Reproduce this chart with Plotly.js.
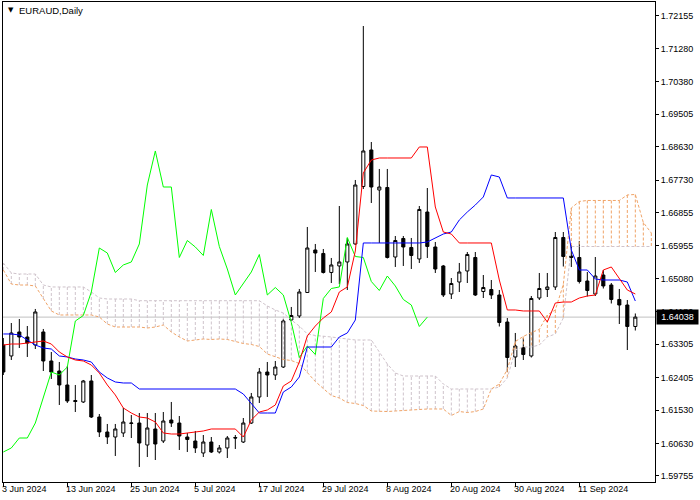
<!DOCTYPE html>
<html><head><meta charset="utf-8">
<script src="https://cdn.plot.ly/plotly-3.0.1.min.js"></script>
<style>html,body{margin:0;padding:0;background:#fff;}#chart{width:700px;height:500px;}</style>
</head><body><div id="chart"></div>
<script>
const symbolTitle = "EURAUD,Daily";
const dateLabels = ["3 Jun 2024","13 Jun 2024","25 Jun 2024","5 Jul 2024","17 Jul 2024","29 Jul 2024","8 Aug 2024","20 Aug 2024","30 Aug 2024","11 Sep 2024"];
const dateLabelIdx = [0,8,16,24,32,40,48,56,64,72];
const priceTicks = [1.72155,1.71280,1.70380,1.69505,1.68630,1.67730,1.66855,1.65955,1.65080,1.64180,1.63305,1.62405,1.61530,1.60630,1.59755];

const open = [1.63286,1.62990,1.63637,1.63502,1.63286,1.63637,1.62855,1.62585,1.62208,1.61790,
1.61750,1.62316,1.61345,1.60941,1.60806,1.60914,1.61170,1.61183,1.60590,1.61022,
1.60698,1.61264,1.61183,1.60806,1.60698,1.60375,1.60671,1.60402,1.60510,1.60793,
1.60671,1.61183,1.61885,1.62558,1.62477,1.62693,1.63960,1.64068,1.64702,1.65847,
1.65753,1.65241,1.65416,1.65524,1.66009,1.67559,1.68543,1.67465,1.67532,1.65658,
1.66157,1.65915,1.65605,1.66871,1.65928,1.65416,1.64661,1.64984,1.65281,1.65645,
1.64728,1.64782,1.64634,1.63906,1.62963,1.63219,1.62990,1.64553,1.64782,1.64850,
1.66184,1.65685,1.65645,1.65011,1.64661,1.65173,1.64904,1.64513,1.64364,1.63785];
const high = [1.63475,1.63879,1.63987,1.63798,1.64257,1.63718,1.63097,1.62828,1.62720,1.62208,
1.62343,1.62477,1.61426,1.61157,1.61157,1.61588,1.61399,1.61453,1.61453,1.61453,
1.61480,1.61750,1.61372,1.60914,1.60968,1.60860,1.60806,1.60590,1.60833,1.60860,
1.61318,1.61993,1.62666,1.62828,1.62855,1.63987,1.64311,1.64796,1.66467,1.66009,
1.65874,1.65632,1.67033,1.66171,1.67734,1.71885,1.68758,1.68031,1.68031,1.66224,
1.66224,1.66171,1.67033,1.67518,1.66063,1.65443,1.65092,1.65497,1.65793,1.65793,
1.65173,1.65038,1.64769,1.64014,1.63610,1.63475,1.64607,1.65227,1.65227,1.66332,
1.66332,1.65982,1.66090,1.65254,1.65658,1.65308,1.64957,1.64796,1.64499,1.64136];
const low = [1.62477,1.62882,1.63205,1.62963,1.63178,1.62585,1.62370,1.61669,1.61723,1.61480,
1.61723,1.61318,1.60806,1.60617,1.60294,1.60806,1.60779,1.59998,1.60267,1.60186,
1.60644,1.61076,1.60456,1.60402,1.60375,1.60267,1.60375,1.60361,1.60240,1.60483,
1.60644,1.61157,1.61723,1.61885,1.62343,1.62666,1.63933,1.64014,1.64688,1.65254,
1.65213,1.64957,1.64930,1.64769,1.65982,1.67491,1.67114,1.66036,1.65618,1.65389,
1.65416,1.65335,1.65497,1.65632,1.65227,1.64580,1.64526,1.64715,1.64957,1.64607,
1.64553,1.64526,1.63785,1.62558,1.62693,1.62882,1.62949,1.64499,1.64580,1.64769,
1.65402,1.65389,1.64944,1.64594,1.64607,1.64809,1.64405,1.63852,1.63151,1.63677];
const close = [1.62558,1.63610,1.63502,1.63340,1.64176,1.62855,1.62558,1.62208,1.61777,1.61763,
1.62316,1.61345,1.60941,1.60806,1.61022,1.61210,1.61183,1.60644,1.61049,1.60617,
1.61237,1.61183,1.60833,1.60739,1.60510,1.60671,1.60402,1.60510,1.60779,1.60779,
1.61183,1.61885,1.62558,1.62477,1.62693,1.63933,1.64081,1.64715,1.65901,1.65766,
1.65241,1.65443,1.65524,1.66009,1.67599,1.68516,1.67545,1.67545,1.65645,1.66103,
1.65928,1.65699,1.66939,1.65942,1.65335,1.64634,1.64944,1.65254,1.65726,1.64634,
1.64836,1.64634,1.63893,1.62949,1.63259,1.63030,1.64540,1.64809,1.64850,1.66184,
1.65672,1.65645,1.64998,1.64755,1.65146,1.64877,1.64513,1.64364,1.63785,1.64038];

const tenkan = [1.63286,1.63313,1.63313,1.63340,1.63367,1.63394,1.63313,1.63097,1.62963,1.62882,
1.62855,1.62747,1.62531,1.62208,1.61939,1.61588,1.61453,1.61345,1.61318,1.61210,
1.60914,1.60887,1.60887,1.60914,1.60941,1.60968,1.61022,1.61022,1.61022,1.61022,
1.60806,1.61264,1.61480,1.61534,1.61669,1.62181,1.62316,1.62828,1.63529,1.63798,
1.64014,1.64176,1.64715,1.64850,1.65820,1.67923,1.68273,1.68327,1.68327,1.68327,
1.68327,1.68327,1.68624,1.68624,1.67006,1.66332,1.66278,1.66036,1.66036,1.66036,
1.66036,1.66036,1.65038,1.64230,1.64230,1.64203,1.64203,1.64203,1.63906,1.64418,
1.64445,1.64445,1.64553,1.64607,1.64634,1.65308,1.65389,1.65092,1.64769,1.64661];
const kijun = [1.63583,1.63583,1.63556,1.63421,1.63286,1.63205,1.63178,1.62990,1.62963,1.62909,
1.62882,1.62828,1.62558,1.62397,1.62289,1.62262,1.62262,1.62100,1.62100,1.62100,
1.62100,1.62100,1.62100,1.62100,1.62100,1.62100,1.62100,1.62100,1.62100,1.62100,
1.61965,1.61723,1.61453,1.61453,1.61453,1.62019,1.62154,1.62424,1.63232,1.63232,
1.63232,1.63232,1.63502,1.63610,1.63960,1.66036,1.66036,1.66036,1.66036,1.66036,
1.66036,1.66036,1.66036,1.66063,1.66171,1.66278,1.66332,1.66656,1.66871,1.67060,
1.67276,1.67869,1.67815,1.67249,1.67249,1.67249,1.67249,1.67249,1.67249,1.67249,
1.67249,1.65847,1.65308,1.65308,1.65065,1.65038,1.65038,1.65038,1.64984,1.64472];
const senkouA = [1.65308,1.64930,1.64903,1.64903,1.64877,1.64526,1.64203,1.64095,1.64095,1.64095,
1.64095,1.64095,1.64041,1.63852,1.63771,1.63771,1.63771,1.63771,1.63744,1.63771,
1.63825,1.63637,1.63502,1.63394,1.63421,1.63448,1.63435,1.63448,1.63435,1.63381,
1.63327,1.63300,1.63246,1.63044,1.62963,1.62895,1.62868,1.62787,1.62544,1.62302,
1.62113,1.61925,1.61857,1.61736,1.61709,1.61655,1.61507,1.61493,1.61493,1.61507,
1.61520,1.61534,1.61561,1.61561,1.61561,1.61561,1.61386,1.61493,1.61466,1.61493,
1.61561,1.62100,1.62235,1.62626,1.63381,1.63516,1.63624,1.63705,1.64095,1.64230,
1.64917,1.66980,1.67155,1.67182,1.67182,1.67182,1.67182,1.67182,1.67330,1.67344,
1.66588,1.66305];
const senkouB = [1.65497,1.65227,1.65200,1.65200,1.65200,1.64904,1.64850,1.64850,1.64850,1.64850,
1.64850,1.64715,1.64553,1.64526,1.64526,1.64526,1.64526,1.64480,1.64480,1.64480,
1.64480,1.64480,1.64480,1.64480,1.64480,1.64480,1.64480,1.64480,1.64480,1.64480,
1.64480,1.64480,1.64480,1.64338,1.64230,1.64149,1.63960,1.63798,1.63583,1.63543,
1.63529,1.63502,1.63475,1.63448,1.63421,1.63421,1.63421,1.63097,1.62774,1.62531,
1.62450,1.62450,1.62450,1.62450,1.62450,1.62235,1.62100,1.62100,1.62100,1.62100,
1.62100,1.62100,1.62154,1.62397,1.63151,1.63232,1.63232,1.63286,1.63502,1.63583,
1.64014,1.65941,1.65941,1.65941,1.65941,1.65941,1.65941,1.65941,1.65941,1.65941,
1.65941,1.65941];
const chikouShift = 26;

const idx = open.map((_, i) => i);
const cloudIdx = senkouA.map((_, i) => i);
const chikouX = idx.slice(0, close.length - chikouShift);
const chikouY = close.slice(chikouShift);
const lastClose = close[close.length - 1];

const upX = [], upY = [], dnX = [], dnY = [];
cloudIdx.forEach(i => {
  if (senkouA[i] >= senkouB[i]) { upX.push(i, i, null); upY.push(senkouA[i], senkouB[i], null); }
  else { dnX.push(i, i, null); dnY.push(senkouA[i], senkouB[i], null); }
});

const SANDY = '#F0A468', THISTLE = '#CFC3CB';
const traces = [
  {type:'scatter', mode:'lines', x:dnX, y:dnY, line:{color:THISTLE, width:1, dash:'3px,2px'}, hoverinfo:'skip'},
  {type:'scatter', mode:'lines', x:upX, y:upY, line:{color:SANDY, width:1, dash:'3px,2px'}, hoverinfo:'skip'},
  {type:'scatter', mode:'lines', x:cloudIdx, y:senkouB, line:{color:THISTLE, width:1, dash:'3px,2px'}, hoverinfo:'skip'},
  {type:'scatter', mode:'lines', x:cloudIdx, y:senkouA, line:{color:SANDY, width:1, dash:'3px,2px'}, hoverinfo:'skip'},
  {type:'candlestick', x:idx, open:open, high:high, low:low, close:close,
   increasing:{line:{color:'#000000', width:1}, fillcolor:'#ffffff'},
   decreasing:{line:{color:'#000000', width:1}, fillcolor:'#000000'},
   whiskerwidth:0, hoverinfo:'skip'},
  {type:'scatter', mode:'lines', x:chikouX, y:chikouY, line:{color:'#00ff00', width:1}, hoverinfo:'skip'},
  {type:'scatter', mode:'lines', x:idx, y:kijun, line:{color:'#0000ff', width:1}, hoverinfo:'skip'},
  {type:'scatter', mode:'lines', x:idx, y:tenkan, line:{color:'#ff0000', width:1}, hoverinfo:'skip'}
];

const annotations = dateLabels.map((t, k) => ({
  xref:'x', yref:'paper', x:dateLabelIdx[k], y:0, xanchor:'left', yanchor:'top',
  xshift:-3, yshift:0, text:t, showarrow:false, font:{size:9, color:'#000'}
}));
annotations.push({xref:'paper', yref:'paper', x:0.0123, y:0.9833, xanchor:'center', yanchor:'middle',
  text:'▼', showarrow:false, font:{size:7, color:'#000', family:'DejaVu Sans'}});
annotations.push({xref:'paper', yref:'paper', x:0.0215, y:0.9823, xanchor:'left', yanchor:'middle',
  text:symbolTitle, showarrow:false, font:{size:9.5, color:'#000'}});
annotations.push({xref:'paper', yref:'y', x:1, y:lastClose, xanchor:'left', yanchor:'middle', xshift:1,
  text:lastClose.toFixed(5), showarrow:false, bgcolor:'#000', borderpad:1, width:39, height:12,
  font:{size:9, color:'#fff'}});

const layout = {
  width:700, height:500,
  margin:{l:3, r:45, t:2, b:18, pad:0},
  paper_bgcolor:'#fff', plot_bgcolor:'#fff',
  showlegend:false,
  font:{family:'"Liberation Sans", Arial, sans-serif', size:9, color:'#000'},
  boxgap:0.45,
  xaxis:{range:[-0.04, 81.46], showgrid:false, zeroline:false, showline:true, mirror:true,
    linecolor:'#000', linewidth:1, ticks:'outside', ticklen:4, tickcolor:'#000',
    tickvals:dateLabelIdx, showticklabels:false, rangeslider:{visible:false}, fixedrange:true},
  yaxis:{side:'right', range:[1.59593, 1.72532], showgrid:false, zeroline:false, showline:true, mirror:true,
    linecolor:'#000', linewidth:1, ticks:'outside', ticklen:3, tickcolor:'#000',
    tickvals:priceTicks, ticktext:priceTicks.map(v => v.toFixed(5)), fixedrange:true},
  shapes:[{type:'line', xref:'paper', yref:'y', x0:0, x1:1, y0:lastClose, y1:lastClose,
    line:{color:'#c0c0c0', width:1}, layer:'below'}],
  annotations:annotations
};

Plotly.newPlot('chart', traces, layout, {staticPlot:true, displayModeBar:false});
</script>
</body></html>
